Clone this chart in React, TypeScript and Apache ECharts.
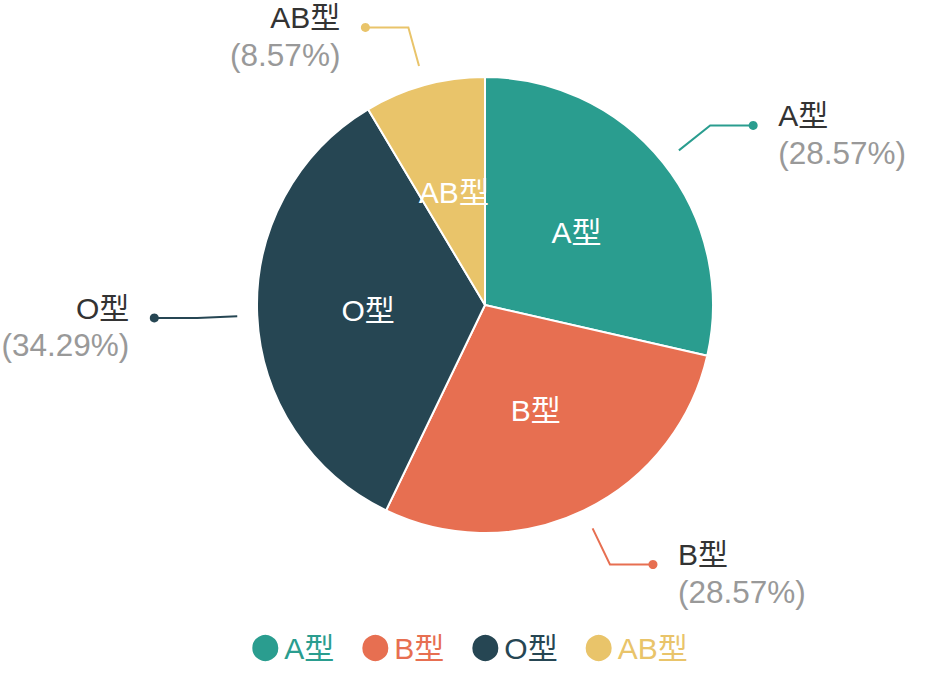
import React, { useEffect, useRef } from 'react';
import * as echarts from 'echarts';
import type { EChartsOption } from 'echarts';

// blood type share (counts), read from the percentages 28.57 / 28.57 / 34.29 / 8.57
const bloodTypes = ['A型', 'B型', 'O型', 'AB型'];
const typeCounts = [10, 10, 12, 3];
const typeColors = ['#2a9d8f', '#e76f51', '#264653', '#e9c46a'];

const FONT = '"Liberation Sans", Arial, "Noto Sans CJK SC", sans-serif';

const App: React.FC = () => {
  const chartRef = useRef<HTMLDivElement>(null);

  useEffect(() => {
    document.body.style.margin = '0';
    if (!chartRef.current) return;
    const chart = echarts.init(chartRef.current, undefined, { renderer: 'svg' });

    // end points of the label lines, filled in by labelLayout
    const dots: number[][] = [];

    const option: EChartsOption = {
      animation: false,
      textStyle: { fontFamily: FONT },
      legend: {
        bottom: 10,
        icon: 'circle',
        itemWidth: 28,
        itemHeight: 28,
        itemGap: 26,
        textStyle: { fontSize: 30, fontFamily: FONT },
        data: bloodTypes.map((name, i) => ({ name, textStyle: { color: typeColors[i] } })),
      },
      series: [
        {
          // the visible pie with names inside
          type: 'pie',
          center: ['485px', '305px'],
          radius: 228,
          silent: true,
          itemStyle: { borderColor: '#fff', borderWidth: 2 },
          label: {
            position: 'inside',
            color: '#fff',
            fontSize: 30,
            fontFamily: FONT,
            formatter: '{b}',
          },
          labelLine: { show: false },
          emphasis: { disabled: true },
          data: bloodTypes.map((name, i) => ({
            name,
            value: typeCounts[i],
            itemStyle: { color: typeColors[i] },
          })),
        },
        {
          // invisible wider ring that carries the outside labels
          type: 'pie',
          center: ['485px', '305px'],
          radius: 248,
          silent: true,
          emphasis: { disabled: true },
          label: {
            position: 'outside',
            alignTo: 'none',
            overflow: 'none',
            distanceToLabelLine: 25,
            padding: [18, 0, 0, 0],
            formatter: '{name|{b}}\n{per|({d}%)}',
            rich: {
              name: { fontSize: 30, color: '#333', lineHeight: 37, fontFamily: FONT },
              per: { fontSize: 31.5, color: '#999', lineHeight: 37, fontFamily: FONT },
            },
          },
          labelLine: { show: true, length: 40, length2: 43, lineStyle: { width: 2 } },
          labelLayout: (params: any) => {
            const pts = params.labelLinePoints;
            if (pts && pts.length) dots[params.dataIndex] = pts[pts.length - 1];
            return {};
          },
          data: bloodTypes.map((name, i) => ({
            name,
            value: typeCounts[i],
            itemStyle: { color: 'rgba(0,0,0,0)' },
            labelLine: { lineStyle: { color: typeColors[i] } },
          })),
        },
      ],
    };

    chart.setOption(option);

    const addDots = () => {
      if (!dots.length) return false;
      chart.setOption({
        graphic: dots.map((p, i) => ({
          type: 'circle',
          silent: true,
          shape: { cx: p[0], cy: p[1], r: 4.5 },
          style: { fill: typeColors[i] },
        })),
      });
      return true;
    };
    if (!addDots()) {
      const onFinished = () => {
        if (addDots()) chart.off('finished', onFinished);
      };
      chart.on('finished', onFinished);
    }

    return () => {
      chart.dispose();
    };
  }, []);

  return <div ref={chartRef} style={{ width: '938px', height: '678px' }} />;
};

export default App;
